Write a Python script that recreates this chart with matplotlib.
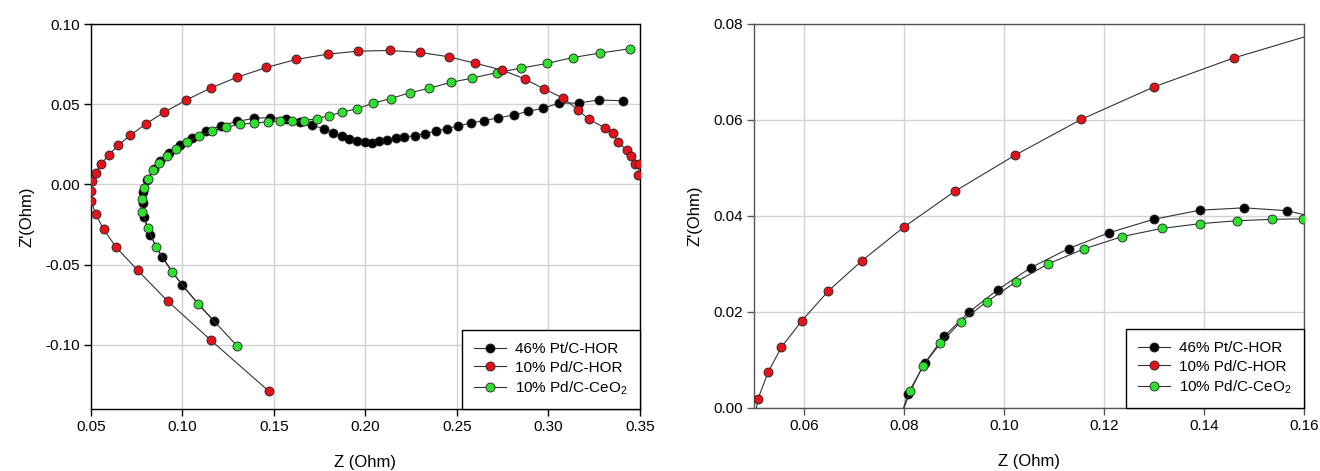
import matplotlib.pyplot as plt
from matplotlib.ticker import MultipleLocator, FormatStrFormatter

plt.rcParams['font.family'] = ['Liberation Sans', 'DejaVu Sans']
plt.rcParams['mathtext.fontset'] = 'custom'
plt.rcParams['mathtext.rm'] = 'Liberation Sans'
plt.rcParams['mathtext.it'] = 'Liberation Sans'

# ==================== 数据 (Nyquist) ====================
# 46% Pt/C-HOR
pt_z = [0.1170, 0.0997, 0.0888, 0.0822, 0.0790, 0.0782, 0.0786, 0.0808,
        0.0842, 0.0880, 0.0929, 0.0987, 0.1053, 0.1129, 0.1210, 0.1299,
        0.1391, 0.1480, 0.1566, 0.1644, 0.1708, 0.1772, 0.1824, 0.1872,
        0.1910, 0.1952, 0.1997, 0.2036, 0.2074, 0.2117, 0.2167, 0.2210,
        0.2272, 0.2323, 0.2383, 0.2444, 0.2504, 0.2575, 0.2648, 0.2724,
        0.2811, 0.2890, 0.2970, 0.3056, 0.3168, 0.3274, 0.3409]
pt_zi = [-0.0850, -0.0627, -0.0450, -0.0313, -0.0206, -0.0115, -0.0045, 0.0030,
         0.0094, 0.0149, 0.0199, 0.0246, 0.0292, 0.0332, 0.0365, 0.0393,
         0.0412, 0.0417, 0.0411, 0.0392, 0.0369, 0.0348, 0.0321, 0.0300,
         0.0283, 0.0273, 0.0265, 0.0261, 0.0269, 0.0275, 0.0288, 0.0296,
         0.0304, 0.0317, 0.0331, 0.0348, 0.0364, 0.0383, 0.0398, 0.0415,
         0.0433, 0.0456, 0.0475, 0.0506, 0.0508, 0.0527, 0.0521]

# 10% Pd/C-HOR
pd_z = [0.1473, 0.1154, 0.0919, 0.0755, 0.0638, 0.0569, 0.0526, 0.0502,
        0.0498, 0.0508, 0.0528, 0.0555, 0.0596, 0.0649, 0.0716, 0.0800,
        0.0901, 0.1021, 0.1154, 0.1300, 0.1459, 0.1620, 0.1793, 0.1961,
        0.2132, 0.2296, 0.2455, 0.2597, 0.2744, 0.2870, 0.2975, 0.3081,
        0.3163, 0.3221, 0.3307, 0.3352, 0.3381, 0.3429, 0.3451, 0.3474,
        0.3496, 0.3489]
pd_zi = [-0.1290, -0.0970, -0.0727, -0.0535, -0.0392, -0.0280, -0.0183, -0.0106,
         -0.0042, 0.0019, 0.0074, 0.0127, 0.0182, 0.0244, 0.0307, 0.0377,
         0.0451, 0.0526, 0.0601, 0.0669, 0.0729, 0.0779, 0.0812, 0.0831,
         0.0835, 0.0823, 0.0796, 0.0756, 0.0714, 0.0658, 0.0596, 0.0538,
         0.0463, 0.0406, 0.0354, 0.0321, 0.0263, 0.0213, 0.0177, 0.0129,
         0.0125, 0.0056]

# 10% Pd/C-CeO2
ce_z = [0.1298, 0.1086, 0.0944, 0.0855, 0.0810, 0.0780, 0.0777, 0.0791,
        0.0813, 0.0838, 0.0873, 0.0913, 0.0965, 0.1023, 0.1088, 0.1159,
        0.1236, 0.1315, 0.1392, 0.1465, 0.1535, 0.1598, 0.1662, 0.1735,
        0.1802, 0.1873, 0.1955, 0.2043, 0.2137, 0.2241, 0.2349, 0.2466,
        0.2584, 0.2717, 0.2848, 0.2992, 0.3132, 0.3283, 0.3444]
ce_zi = [-0.1006, -0.0746, -0.0548, -0.0392, -0.0269, -0.0169, -0.0092, -0.0023,
         0.0035, 0.0088, 0.0135, 0.0179, 0.0221, 0.0262, 0.0300, 0.0331,
         0.0357, 0.0374, 0.0384, 0.0390, 0.0393, 0.0394, 0.0398, 0.0410,
         0.0429, 0.0450, 0.0473, 0.0506, 0.0535, 0.0571, 0.0600, 0.0636,
         0.0663, 0.0697, 0.0725, 0.0754, 0.0791, 0.0819, 0.0846]

series = [
    ('46% Pt/C-HOR', pt_z, pt_zi, 'black', 3),
    ('10% Pd/C-HOR', pd_z, pd_zi, '#e3121b', 5),
    ('10% Pd/C-CeO$_2$', ce_z, ce_zi, '#2fe02f', 4),
]

# ==================== 绘图 ====================
fig = plt.figure(figsize=(13.2, 4.71), dpi=100)
ax1 = fig.add_axes([0.0689, 0.1316, 0.4159, 0.8174])
ax2 = fig.add_axes([0.5712, 0.1338, 0.4167, 0.8153])


def draw(ax, spine_color):
    for label, z, zi, c, zo in series:
        ax.plot(z, zi, '-', color='#333333', lw=0.8, marker='o', ms=6.5,
                mfc=c, mec='#222222', mew=0.6, label=label, zorder=zo)
    ax.grid(True, color='#d2d2d2', lw=1.0, zorder=0)
    ax.set_axisbelow(True)
    for s in ax.spines.values():
        s.set_color(spine_color)
        s.set_linewidth(1.0)
    ax.tick_params(direction='out', length=5, width=1, pad=3, labelsize=11,
                   top=False, right=False, color=spine_color)
    ax.yaxis.set_major_formatter(FormatStrFormatter('%.2f'))
    ax.xaxis.set_major_formatter(FormatStrFormatter('%.2f'))
    ax.set_xlabel('Z (Ohm)', fontsize=12, labelpad=15)
    ax.set_ylabel("Z'(Ohm)", fontsize=12, labelpad=8)
    h, l = ax.get_legend_handles_labels()
    leg = ax.legend(h, l, loc='lower right', fontsize=11, borderaxespad=0,
                    fancybox=False, framealpha=1, edgecolor='black',
                    handlelength=2.1, handletextpad=0.6, labelspacing=0.3,
                    borderpad=0.8)
    leg.get_frame().set_linewidth(1.0)


draw(ax1, 'black')
ax1.set_xlim(0.05, 0.35)
ax1.set_ylim(-0.14, 0.10)
ax1.xaxis.set_major_locator(MultipleLocator(0.05))
ax1.set_yticks([-0.10, -0.05, 0.00, 0.05, 0.10])

draw(ax2, '#555555')
ax2.set_xlim(0.05, 0.16)
ax2.set_ylim(0.0, 0.08)
ax2.set_xticks([0.06, 0.08, 0.10, 0.12, 0.14, 0.16])
ax2.set_yticks([0.00, 0.02, 0.04, 0.06, 0.08])

fig.savefig('out.png', dpi=100)
